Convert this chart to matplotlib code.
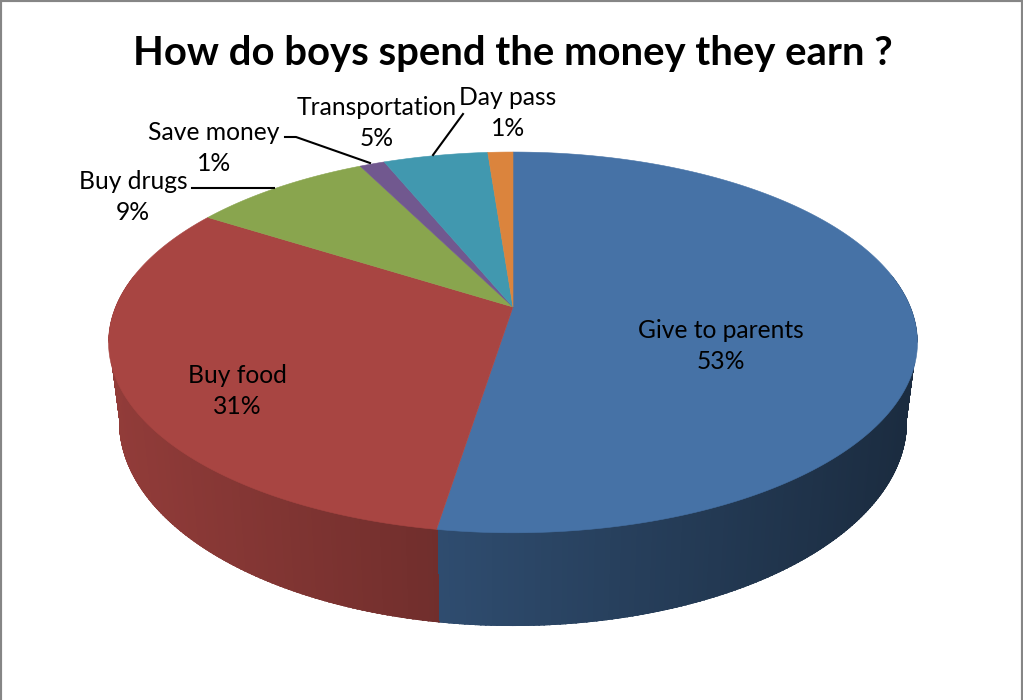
import numpy as np
import matplotlib
matplotlib.use("Agg")
import matplotlib.pyplot as plt
from matplotlib.colors import to_rgb
from matplotlib.patches import Polygon

plt.rcParams['font.family'] = ['Lato', 'DejaVu Sans']

categories = ['Give to parents', 'Buy food', 'Buy drugs', 'Save money', 'Transportation', 'Day pass']
shares = [52.51, 31.49, 8.6, 1.2, 5.0, 1.2]
colors = ['#4672A6', '#A84542', '#89A54E', '#71588F', '#4198AF', '#DB843D']
title = 'How do boys spend the money they earn ?'


# circle angle (clockwise from 12 o'clock) -> tilted disc in pixel coordinates
def disc(theta, a, b, y0, k=0.186, x0=513):
    u, v = np.sin(theta), np.cos(theta)
    d = 1 + k * v
    return x0 + a * u / d, y0 - b * v / d


TOP = dict(a=397.4, b=183.8, y0=307)
BOTTOM = dict(a=387, b=197, y0=384)

fig = plt.figure(figsize=(10.23, 7), dpi=100)
ax = fig.add_axes([0, 0, 1, 1])
ax.set_xlim(0, 1023)
ax.set_ylim(700, 0)
ax.set_xticks([])
ax.set_yticks([])
for side in ['left', 'top', 'right']:
    ax.spines[side].set_color('#868686')
    ax.spines[side].set_linewidth(3)
ax.spines['bottom'].set_visible(False)

edges = 2 * np.pi * np.concatenate([[0], np.cumsum(shares)]) / sum(shares)

# silhouette of the whole disc, keeps the outer edge of the wall smooth
bx, by = disc(np.linspace(np.radians(100), np.radians(260), 300), **BOTTOM)
tx, ty = disc(np.linspace(np.radians(260), np.radians(460), 300), **TOP)
outline = Polygon(np.c_[np.r_[bx, tx], np.r_[by, ty]], closed=True, transform=ax.transData,
                  facecolor='none', edgecolor='none')
ax.add_patch(outline)

# side wall, only the front of the disc shows
for i in range(len(shares)):
    lo = max(edges[i], np.radians(80))
    hi = min(edges[i + 1], np.radians(280))
    if hi <= lo:
        continue
    steps = np.linspace(lo, hi, max(2, int((hi - lo) * 90)))
    for t1, t2 in zip(steps[:-1], steps[1:]):
        x1, y1 = disc(np.array([t1, t2]), **TOP)
        x2, y2 = disc(np.array([t2, t1]), **BOTTOM)
        mid = (x1.mean() + x2.mean()) / 2
        shade = 0.87 - (mid - 110) * 0.49 / 800
        c = np.array(to_rgb(colors[i])) * np.clip(shade, 0.36, 0.9)
        strip = ax.fill(np.r_[x1, x2], np.r_[y1, y2], color=c, lw=0.7, zorder=2, antialiased=False)[0]
        strip.set_clip_path(outline)

# top face
for i in range(len(shares)):
    t = np.linspace(edges[i], edges[i + 1], 200)
    x, y = disc(t, **TOP)
    ax.fill(np.r_[513, x], np.r_[TOP['y0'], y], color=colors[i], lw=0.4, zorder=3)

# labels
label_pos = [(721, 346), (237, 391), (133, 197), (214, 148), (377, 123), (508, 113)]
for name, share, (lx, ly) in zip(categories, shares, label_pos):
    ax.text(lx, ly, f'{name}\n{share:.0f}%', ha='center', va='center', fontsize=17.7,
            linespacing=1.42, color='black', zorder=5)

# leader lines
ax.plot([192, 274], [188, 188], color='black', lw=1.5, zorder=4)
ax.plot([285, 296, 370], [137, 137, 163], color='black', lw=1.5, zorder=4)
ax.plot([463, 433], [114, 155], color='black', lw=1.5, zorder=4)

ax.text(513, 53, title, ha='center', va='center', fontsize=28.8, fontweight='bold', color='black')

fig.savefig('out.png', dpi=100)
